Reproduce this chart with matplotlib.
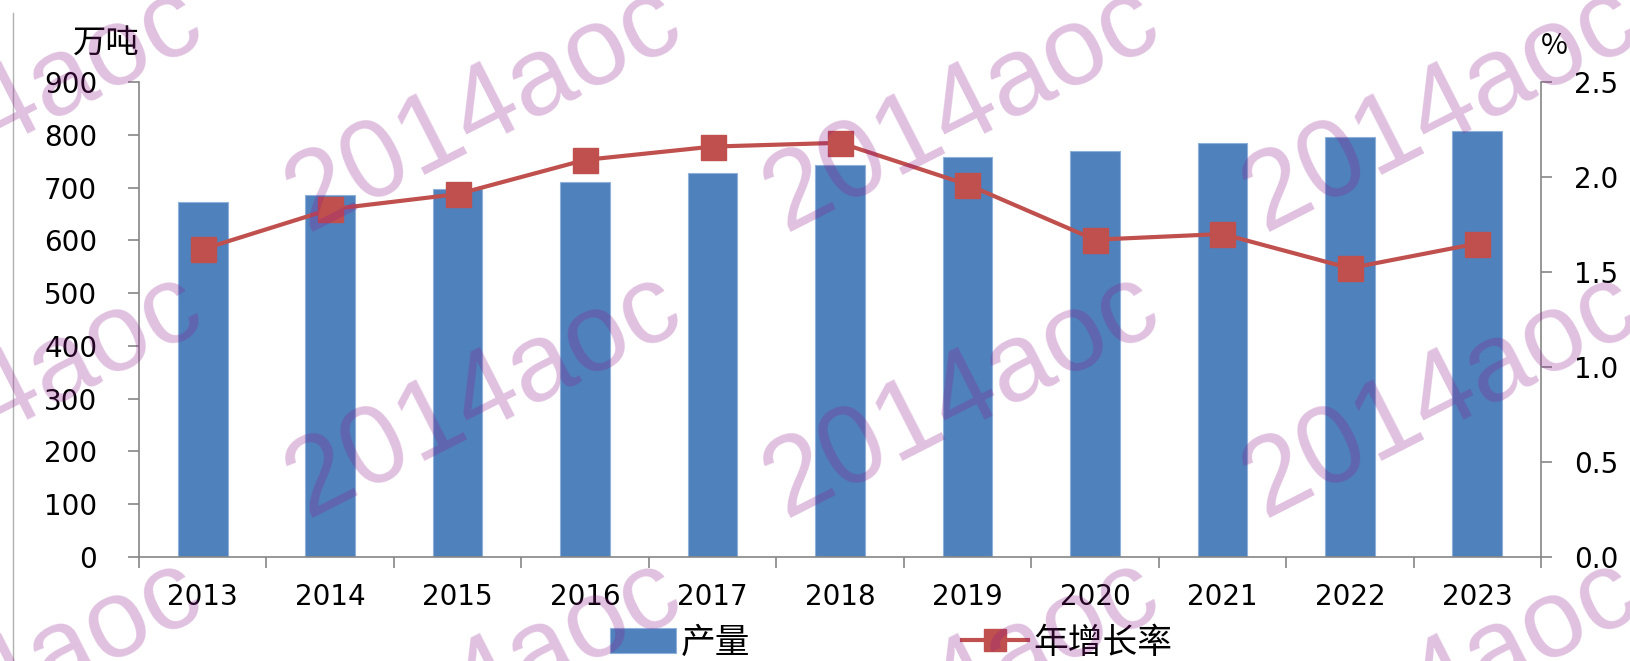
import numpy as np
import matplotlib
matplotlib.use("Agg")
import matplotlib.pyplot as plt
from matplotlib.lines import Line2D

plt.rcParams['font.family'] = ['DejaVu Sans', 'Noto Sans CJK SC']

years = ['2013', '2014', '2015', '2016', '2017', '2018', '2019', '2020', '2021', '2022', '2023']
output = [673, 685, 697, 711, 728, 743, 758, 770, 784, 796, 808]   # 万吨
growth = [1.62, 1.83, 1.91, 2.09, 2.16, 2.18, 1.96, 1.67, 1.70, 1.52, 1.65]  # %

bar_color = '#4f81bd'
line_color = '#c0504d'
spine_color = '#868686'
cjk = ['Noto Sans CJK SC', 'DejaVu Sans']

fig = plt.figure(figsize=(16.31, 6.61), dpi=100)
ax = fig.add_axes([139 / 1631, 1 - 557 / 661, (1541 - 139) / 1631, (557 - 82) / 661])
ax2 = ax.twinx()

x = np.arange(len(years))
ax.bar(x, output, width=0.39, color=bar_color, edgecolor='#8fb0d8', linewidth=0.8,
       label='产量', zorder=2)
ax2.plot(x, growth, color=line_color, linewidth=3, marker='s', markersize=18,
         markerfacecolor=line_color, markeredgecolor=line_color, label='年增长率', zorder=3)

ax.set_xlim(-0.5, len(years) - 0.5)
ax.set_ylim(0, 900)
ax.set_yticks(range(0, 901, 100))
ax2.set_ylim(0, 2.5)
ax2.set_yticks([0, 0.5, 1.0, 1.5, 2.0, 2.5])
ax2.set_yticklabels(['%.1f' % v for v in [0, 0.5, 1.0, 1.5, 2.0, 2.5]])

ax.set_xticks(x)
ax.set_xticklabels(years)
ax.set_xticks(np.arange(-0.5, len(years)), minor=True)
ax.tick_params(axis='x', which='major', length=0, pad=19, labelsize=20)
ax.tick_params(axis='x', which='minor', length=8, width=1.2, color=spine_color, direction='out')
ax.tick_params(axis='y', length=8, width=1.2, color=spine_color, pad=22, labelsize=20)
ax2.tick_params(axis='y', length=8, width=1.2, color=spine_color, pad=16, labelsize=20)

for a in (ax, ax2):
    a.spines['top'].set_visible(False)
    for s in ('left', 'right', 'bottom'):
        a.spines[s].set_color(spine_color)
        a.spines[s].set_linewidth(1.2)
ax.spines['right'].set_visible(False)
ax2.spines['left'].set_visible(False)
ax2.spines['bottom'].set_visible(False)

fig.text(106 / 1631, 1 - 44 / 661, '万吨', fontsize=24, family=cjk, ha='center', va='center')
fig.text(1554 / 1631, 1 - 46 / 661, '%', fontsize=21, family=cjk, ha='center', va='center')

h1, l1 = ax.get_legend_handles_labels()
h2, l2 = ax2.get_legend_handles_labels()
fig.legend(h1 + h2, l1 + l2, loc='center', bbox_to_anchor=(891 / 1631, 1 - 643 / 661),
           ncol=2, frameon=False, prop={'family': cjk, 'size': 25},
           handlelength=1.9, handletextpad=0.15, columnspacing=6.1, markerscale=0.85)

# left border line of the original picture
fig.add_artist(Line2D([13 / 1631, 13 / 1631], [0, 1 - 13 / 661], color='#b0b0b0', lw=1))

# watermark
wm_x = [5, 484, 962, 1441]
wm_y = [109, 395, 681]
for yy in wm_y:
    for xx in wm_x:
        fig.text(xx / 1631, 1 - yy / 661, '2014aoc', fontsize=80, family='Liberation Sans',
                 color='#8c1a8c', alpha=0.27, rotation=27, ha='center', va='center',
                 rotation_mode='anchor', zorder=10)

fig.savefig('out.png', dpi=100)
